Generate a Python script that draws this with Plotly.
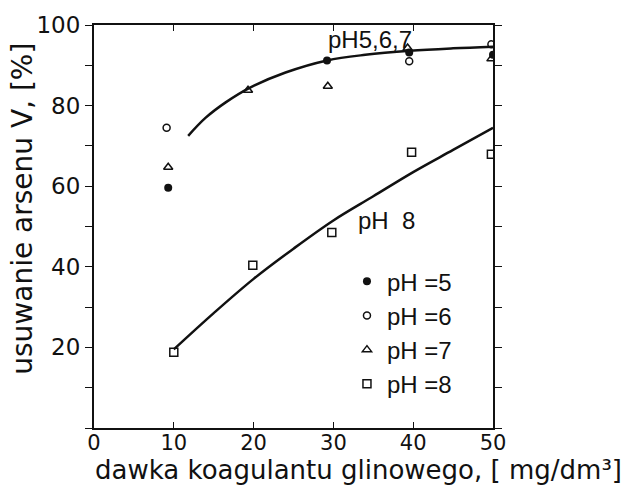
import plotly.graph_objects as go

# measured data points
x5 = [9.3, 29.2, 39.5, 50]
y5 = [59.6, 91.2, 93.2, 92.6]
x6 = [9.1, 39.5, 49.8]
y6 = [74.5, 91.0, 95.2]
x7 = [9.3, 19.3, 29.3, 39.3, 49.8]
y7 = [64.7, 83.8, 84.8, 94.3, 91.6]
x8 = [10.0, 19.9, 29.8, 39.8, 49.8]
y8 = [18.8, 40.4, 48.5, 68.4, 67.9]

# hand-drawn fitted curves
cx_upper = [11.8, 14, 16.5, 19.5, 24, 29.2, 34, 39.6, 45, 50]
cy_upper = [72.5, 77.0, 80.8, 84.4, 88.2, 91.2, 92.6, 93.6, 94.2, 94.6]
cx_lower = [10, 15, 20, 25, 30, 35, 40, 45, 50]
cy_lower = [19.5, 28.5, 37.0, 44.5, 51.5, 57.5, 63.5, 69.0, 74.5]

FONT_T = "DejaVu Sans"
FONT_L = "Liberation Sans"
BLK = "#111"

W, H = 626, 492
ML, MR, MT, MB = 94, 133, 20, 64
PW, PH = W - ML - MR, H - MT - MB


def px_to_paper(px, py):
    return (px - ML) / PW, (H - MB - py) / PH


fig = go.Figure()
fig.add_trace(go.Scatter(x=cx_upper, y=cy_upper, mode="lines", line=dict(color=BLK, width=2.5, shape="spline"), showlegend=False, hoverinfo="skip"))
fig.add_trace(go.Scatter(x=cx_lower, y=cy_lower, mode="lines", line=dict(color=BLK, width=2.5, shape="spline"), showlegend=False, hoverinfo="skip"))

fig.add_trace(go.Scatter(x=x5, y=y5, mode="markers", name="pH =5", legendgroup="a",
                         marker=dict(symbol="circle", size=8, color=BLK)))
fig.add_trace(go.Scatter(x=x6, y=y6, mode="markers", name="pH =6", legendgroup="b",
                         marker=dict(symbol="circle-open", size=7, color=BLK, line=dict(width=1.5))))
fig.add_trace(go.Scatter(x=x7, y=y7, mode="markers", name="pH =7", legendgroup="c",
                         marker=dict(symbol="triangle-up-open", size=8, color=BLK, line=dict(width=1.5))))
fig.add_trace(go.Scatter(x=x8, y=y8, mode="markers", name="pH =8", legendgroup="d",
                         marker=dict(symbol="square-open", size=8, color=BLK, line=dict(width=1.5))))

fig.add_annotation(x=34.6, y=96.5, text="pH5,6,7", showarrow=False, xref="x", yref="y",
                   font=dict(family=FONT_L, size=24, color=BLK))
fig.add_annotation(x=36.7, y=51.5, text="pH  8", showarrow=False, xref="x", yref="y",
                   font=dict(family=FONT_L, size=24, color=BLK))

# axis titles placed as annotations to match the reference positions
tx, ty = px_to_paper(358, 471)
fig.add_annotation(x=tx, y=ty, xref="paper", yref="paper", xanchor="center", yanchor="middle",
                   text="dawka koagulantu glinowego, [ mg/dm³]",
                   showarrow=False, font=dict(family=FONT_T, size=26, color=BLK))
tx, ty = px_to_paper(23, 206)
fig.add_annotation(x=tx, y=ty, xref="paper", yref="paper", xanchor="center", yanchor="middle",
                   text="usuwanie arsenu V, [%]",
                   textangle=-90, showarrow=False, font=dict(family=FONT_T, size=28, color=BLK))

fig.update_layout(
    width=W, height=H,
    margin=dict(l=ML, r=MR, t=MT, b=MB),
    paper_bgcolor="white", plot_bgcolor="white",
    font=dict(family=FONT_T, size=24, color=BLK),
    legend=dict(x=0.634, y=0.419, xanchor="left", yanchor="top",
                bgcolor="rgba(0,0,0,0)", font=dict(family=FONT_L, size=24, color=BLK),
                itemwidth=30, tracegroupgap=0),
    xaxis=dict(range=[0, 50], tickvals=[0, 10, 20, 30, 40, 50], ticks="inside", ticklen=6,
               tickcolor=BLK, showline=True, linecolor=BLK, linewidth=2, mirror="ticks",
               showgrid=False, zeroline=False, ticklabelstandoff=-5,
               tickfont=dict(family=FONT_T, size=21, color=BLK)),
    yaxis=dict(range=[0, 100], tickvals=[20, 40, 60, 80, 100], ticks="outside", ticklen=7,
               tickcolor=BLK, showline=True, linecolor=BLK, linewidth=2, mirror="ticks",
               minor=dict(dtick=10, ticks="outside", ticklen=7, tickcolor=BLK),
               showgrid=False, zeroline=False,
               tickfont=dict(family=FONT_T, size=23, color=BLK)),
)

fig.write_html("out.html")
